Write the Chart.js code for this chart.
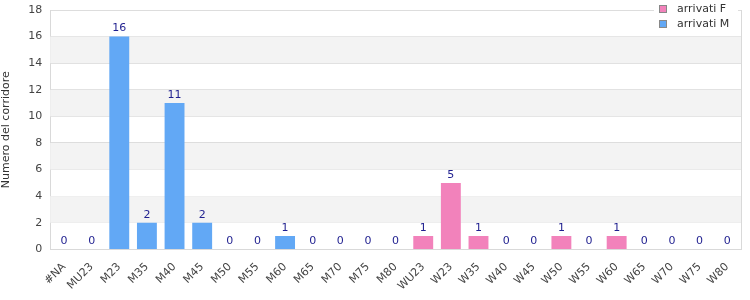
<!DOCTYPE html>
<html>
<head>
<meta charset="utf-8">
<script src="https://cdn.jsdelivr.net/npm/chart.js@4/dist/chart.umd.min.js"></script>
<style>
  html, body { margin: 0; padding: 0; background: #fff; }
  #wrap { width: 750px; height: 300px; position: relative; }
</style>
</head>
<body>
<div id="wrap"><canvas id="grafico"></canvas></div>
<script>
const categorie = ['#NA', 'MU23', 'M23', 'M35', 'M40', 'M45', 'M50', 'M55', 'M60', 'M65', 'M70', 'M75', 'M80',
    'WU23', 'W23', 'W35', 'W40', 'W45', 'W50', 'W55', 'W60', 'W65', 'W70', 'W75', 'W80'];
const arrivatiM = [0, 0, 16, 2, 11, 2, 0, 0, 1, 0, 0, 0, 0,
    null, null, null, null, null, null, null, null, null, null, null, null];
const arrivatiF = [null, null, null, null, null, null, null, null, null, null, null, null, null,
    1, 5, 1, 0, 0, 1, 0, 1, 0, 0, 0, 0];
const tickY = [0, 2, 4, 6, 8, 10, 12, 14, 16, 18];

const BLU = '#62a8f5';
const ROSA = '#f282bb';
const FONT = '"DejaVu Sans", Verdana, sans-serif';

// alternating grey bands behind the bars
const bande = {
    id: 'bande',
    beforeDatasetsDraw(chart) {
        const { ctx, chartArea, scales: { y } } = chart;
        ctx.save();
        ctx.fillStyle = '#f3f3f3';
        for (let i = 1; i < tickY.length - 1; i += 2) {
            const top = y.getPixelForValue(tickY[i + 1]);
            const bot = y.getPixelForValue(tickY[i]);
            ctx.fillRect(chartArea.left, top, chartArea.right - chartArea.left, bot - top);
        }
        ctx.restore();
    }
};

// value labels above each bar + frame + legend box
const etichette = {
    id: 'etichette',
    afterDatasetsDraw(chart) {
        const { ctx, chartArea } = chart;
        ctx.save();
        ctx.font = '11px ' + FONT;
        ctx.fillStyle = '#1f1f8f';
        ctx.textAlign = 'center';
        ctx.textBaseline = 'middle';
        chart.data.datasets.forEach((ds, i) => {
            chart.getDatasetMeta(i).data.forEach((el, j) => {
                const v = ds.data[j];
                if (v === null) return;
                ctx.fillText(String(v), el.x, el.y - 8);
            });
        });

        // frame
        ctx.strokeStyle = '#d9d9d9';
        ctx.lineWidth = 1;
        ctx.beginPath();
        ctx.moveTo(chartArea.right + 0.5, chartArea.top);
        ctx.lineTo(chartArea.right + 0.5, chartArea.bottom);
        ctx.stroke();

        // legend (F first, then M)
        const voci = [chart.data.datasets[1], chart.data.datasets[0]];
        const x0 = chartArea.right - 87;
        ctx.fillStyle = '#fff';
        ctx.fillRect(x0, 0, 84, chartArea.top + 23);
        ctx.textAlign = 'left';
        voci.forEach((ds, k) => {
            const yc = 9 + k * 15;
            ctx.fillStyle = ds.backgroundColor;
            ctx.fillRect(x0 + 5.5, yc - 3.5, 7, 7);
            ctx.strokeStyle = '#888';
            ctx.strokeRect(x0 + 5.5, yc - 3.5, 7, 7);
            ctx.fillStyle = '#333';
            ctx.fillText(ds.label, x0 + 23, yc);
        });
        ctx.restore();
    }
};

new Chart(document.getElementById('grafico'), {
    type: 'bar',
    data: {
        labels: categorie,
        datasets: [
            { label: 'arrivati M', data: arrivatiM, backgroundColor: BLU },
            { label: 'arrivati F', data: arrivatiF, backgroundColor: ROSA }
        ]
    },
    options: {
        responsive: true,
        maintainAspectRatio: false,
        animation: false,
        layout: { padding: { top: 10, right: 9, left: 0, bottom: 4 } },
        plugins: { legend: { display: false }, tooltip: { enabled: false } },
        datasets: { bar: { categoryPercentage: 0.8, barPercentage: 0.9 } },
        scales: {
            x: {
                stacked: true,
                grid: { display: false },
                border: { color: '#d9d9d9' },
                ticks: { color: '#444', font: { family: FONT, size: 11 }, minRotation: 45, maxRotation: 45, autoSkip: false }
            },
            y: {
                stacked: true,
                min: 0, max: 18,
                afterBuildTicks(axis) { axis.ticks = tickY.map(v => ({ value: v })); },
                afterFit(axis) { axis.paddingTop = 0; axis.paddingBottom = 0; },
                grid: { color: '#dddddd', drawTicks: false },
                border: { color: '#d9d9d9' },
                ticks: { color: '#444', padding: 8, font: { family: FONT, size: 11 } },
                title: { display: true, text: 'Numero del corridore', color: '#333', font: { family: FONT, size: 11 }, padding: { top: 0, bottom: 7 } }
            }
        }
    },
    plugins: [bande, etichette]
});
</script>
</body>
</html>
